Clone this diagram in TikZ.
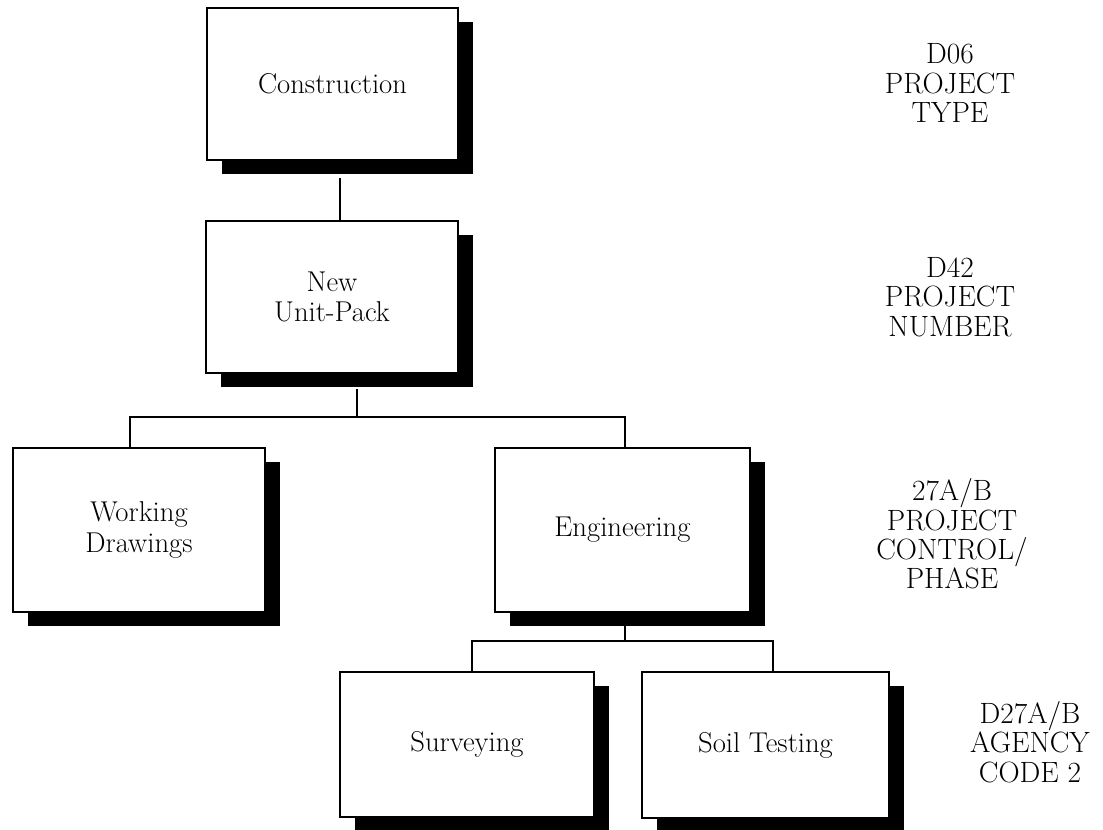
\documentclass[tikz,border=0pt]{standalone}
\usetikzlibrary{shadows}
\tikzset{
  orgbox/.style={draw=black, line width=1.4pt, fill=white, inner sep=0pt, align=center,
    font=\fontsize{21.5}{23}\selectfont,
    drop shadow={shadow xshift=11.25pt, shadow yshift=-10.5pt, fill=black, opacity=1}},
  conn/.style={line width=1.2pt},
  lvl/.style={align=center, inner sep=0pt, font=\fontsize{22}{22}\selectfont}
}
\begin{document}
\begin{tikzpicture}[x=0.75pt,y=-0.75pt]
\useasboundingbox (0,0) rectangle (1103,829);
\node[orgbox, minimum width=188.25pt, minimum height=114pt] (cons) at (332.5,84) {Construction};
\node[orgbox, minimum width=189pt, minimum height=114pt] (new) at (332,297) {New\\Unit-Pack};
\node[orgbox, minimum width=189pt, minimum height=123pt] (work) at (139,530) {Working\\Drawings};
\node[orgbox, minimum width=191.25pt, minimum height=123pt] (eng) at (622.5,530) {Engineering};
\node[orgbox, minimum width=190.5pt, minimum height=108.75pt] (surv) at (467,744.5) {Surveying};
\node[orgbox, minimum width=185.25pt, minimum height=109.5pt] (soil) at (765.5,745) {Soil Testing};

\coordinate (j1) at (357,417);
\coordinate (j2) at (625,641);
\draw[conn] (cons.south -| 340,0) ++(0,17) -- (new.north -| 340,0);
\draw[conn] (new.south -| j1) ++(0,15) -- (j1);
\draw[conn] (work.north -| 130,0) -- (130,417) -- (625,417) -- (eng.north -| 625,0);
\draw[conn] (eng.south -| j2) ++(0,13) -- (j2);
\draw[conn] (surv.north -| 472,0) -- (472,641) -- (773,641) -- (soil.north -| 773,0);

% level labels
\node[lvl] (l1) at (950,83) {D06\\PROJECT\\TYPE};
\node[lvl] (l2) at (950,297) {D42\\PROJECT\\NUMBER};
\node[lvl] (l3) at (952,534) {27A/B\\PROJECT\\CONTROL/\\PHASE};
\node[lvl] (l4) at (1030,742) {D27A/B\\AGENCY\\CODE 2};
\end{tikzpicture}
\end{document}
